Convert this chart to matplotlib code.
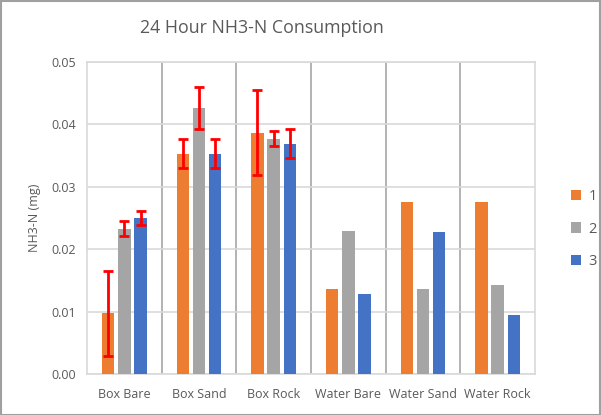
import numpy as np
import matplotlib.pyplot as plt
from matplotlib.patches import Patch, Rectangle

plt.rcParams['font.family'] = ['Open Sans', 'DejaVu Sans']

# Data
categories = ['Box Bare', 'Box Sand', 'Box Rock', 'Water Bare', 'Water Sand', 'Water Rock']
series_names = ['1', '2', '3']
s1 = [0.0097, 0.0353, 0.0387, 0.0137, 0.0275, 0.0275]
s2 = [0.0233, 0.0426, 0.0377, 0.0229, 0.0137, 0.0143]
s3 = [0.0250, 0.0353, 0.0369, 0.0128, 0.0227, 0.0094]
# error bars only on the "Box" groups
e1 = [0.0068, 0.0023, 0.0068, np.nan, np.nan, np.nan]
e2 = [0.0012, 0.0034, 0.0012, np.nan, np.nan, np.nan]
e3 = [0.0012, 0.0023, 0.0023, np.nan, np.nan, np.nan]

colors = ['#ED7D31', '#A5A5A5', '#4472C4']
text_col = '#595959'

fig = plt.figure(figsize=(6.01, 4.15), dpi=100)
ax = fig.add_axes([87/601, 41/415, 448/601, 312/415])

x = np.arange(len(categories))
w = 0.167
off = 0.217
for i, (vals, errs) in enumerate(zip([s1, s2, s3], [e1, e2, e3])):
    xs = x + (i - 1) * off
    ax.bar(xs, vals, width=w, color=colors[i], zorder=3)
    ax.errorbar(xs, vals, yerr=errs, fmt='none', ecolor='#FF0000',
                elinewidth=2, capsize=3.5, capthick=2, zorder=4)

ax.set_xlim(-0.5, len(categories) - 0.5)
ax.set_ylim(0, 0.05)
ax.set_yticks(np.arange(0, 0.051, 0.01))
ax.set_yticklabels(['%.2f' % v for v in np.arange(0, 0.051, 0.01)])
ax.set_xticks(x)
ax.set_xticklabels(categories)
ax.tick_params(axis='both', length=0, labelsize=9, labelcolor=text_col)
ax.tick_params(axis='x', pad=10)
ax.tick_params(axis='y', pad=8)

ax.grid(axis='y', color='#D9D9D9', linewidth=1.2, zorder=0)
for b in np.arange(0.5, len(categories) - 0.5, 1):
    ax.axvline(b, color='#A6A6A6', linewidth=1.2, zorder=1)
for side in ax.spines.values():
    side.set_color('#D9D9D9')
    side.set_linewidth(1.2)

ax.set_ylabel('NH3-N (mg)', fontsize=9, color=text_col, labelpad=7)
fig.text(262/601, 1 - 28/415, '24 Hour NH3-N Consumption', fontsize=12.8,
         color=text_col, ha='center', va='center')

handles = [Patch(facecolor=c, edgecolor='none') for c in colors]
fig.legend(handles, series_names, loc='center left',
           bbox_to_anchor=(558/601, 1 - 229/415), frameon=False,
           fontsize=10.5, labelcolor=text_col, handlelength=0.7,
           handleheight=0.7, handletextpad=0.5, labelspacing=1.2)

# outer chart border
fig.patches.append(Rectangle((0.001, 0.001), 0.997, 0.997, transform=fig.transFigure,
                             fill=False, edgecolor='#A0A0A0', linewidth=1.5))

fig.savefig('out.png', dpi=100)
